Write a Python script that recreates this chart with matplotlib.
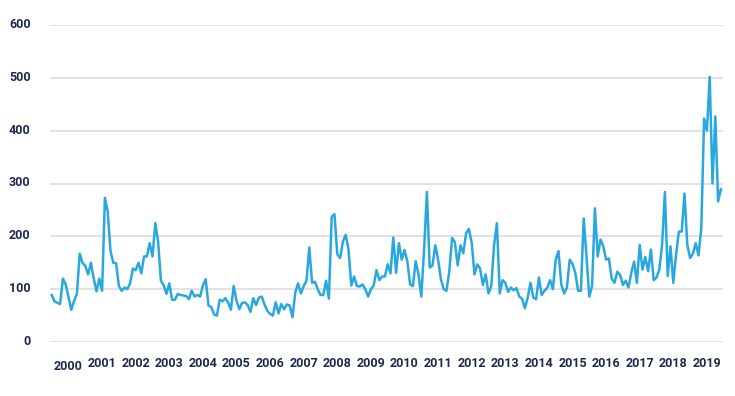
import matplotlib
matplotlib.use("Agg")
import matplotlib.pyplot as plt
import matplotlib.transforms as mtransforms
import numpy as np

# Monthly values, Jan 2000 .. Dec 2019
values = [
    89, 77, 74, 72, 120, 109, 85, 61, 78, 91, 167, 150,
    144, 128, 150, 120, 96, 120, 97, 273, 247, 172, 150, 149,
    106, 97, 103, 100, 111, 139, 136, 150, 130, 162, 162, 187,
    162, 225, 190, 116, 107, 91, 111, 80, 80, 91, 89, 88,
    87, 81, 97, 86, 89, 86, 107, 119, 69, 66, 52, 50,
    80, 77, 83, 75, 61, 106, 78, 62, 74, 75, 70, 57,
    83, 70, 84, 86, 71, 59, 53, 50, 75, 54, 72, 62,
    71, 69, 47, 94, 111, 92, 106, 116, 179, 112, 114, 100,
    89, 89, 116, 82, 237, 242, 166, 159, 190, 203, 175, 107,
    124, 106, 105, 109, 100, 86, 100, 107, 136, 117, 124, 124,
    147, 130, 198, 131, 187, 156, 174, 153, 109, 106, 153, 128,
    86, 175, 284, 141, 145, 183, 156, 119, 100, 97, 134, 197,
    189, 145, 183, 168, 206, 214, 188, 128, 147, 139, 108, 128,
    92, 106, 184, 225, 92, 117, 112, 95, 103, 98, 102, 86,
    82, 64, 84, 112, 84, 81, 122, 89, 97, 103, 117, 100,
    156, 172, 109, 92, 103, 156, 148, 131, 97, 97, 234, 162,
    86, 107, 253, 162, 194, 181, 156, 158, 120, 112, 133, 127,
    108, 116, 103, 131, 152, 112, 184, 137, 161, 134, 175, 117,
    122, 137, 184, 284, 125, 181, 112, 166, 209, 209, 281, 184,
    159, 167, 187, 164, 216, 423, 400, 502, 300, 427, 266, 289,
]
start_year = 2000
years = list(range(2000, 2020))
y_ticks = [0, 100, 200, 300, 400, 500, 600]

x = start_year + np.arange(len(values)) / 12.0

W, H = 735, 396
fig = plt.figure(figsize=(W / 100, H / 100), dpi=100)
ax = fig.add_axes([50 / W, (H - 342) / H, (723 - 50) / W, (342 - 25) / H])

ax.plot(x, values, color="#29a8e0", lw=1.8, solid_joinstyle="round", zorder=3)

ax.set_ylim(0, 600)
ax.set_xlim(2000 - 1.7 / 33.6, 2000 + (723 - 51.7) / 33.6)
ax.set_yticks(y_ticks)
ax.set_yticklabels([str(v) for v in y_ticks])
ax.set_xticks([yr + 0.5 for yr in years])
ax.set_xticklabels([str(yr) for yr in years])

ax.grid(axis="y", color="#dddddd", lw=1.2, zorder=0)
ax.grid(axis="x", visible=False)
for s in ax.spines.values():
    s.set_visible(False)

navy = "#1d2a4e"
ax.tick_params(axis="both", length=0, labelcolor=navy)
ax.tick_params(axis="y", pad=14)
ax.tick_params(axis="x", pad=11)
for lab in ax.get_xticklabels() + ax.get_yticklabels():
    lab.set_fontfamily("Roboto")
    lab.set_fontweight("bold")
    lab.set_fontsize(9)

# y labels sit a touch above their gridlines
for lab in ax.get_yticklabels():
    lab.set_transform(lab.get_transform() + mtransforms.ScaledTranslation(0, 2 / 100, fig.dpi_scale_trans))

first = ax.get_xticklabels()[0]
first.set_transform(first.get_transform() + mtransforms.ScaledTranslation(0, -3 / 100, fig.dpi_scale_trans))

fig.savefig("out.png", dpi=100)
